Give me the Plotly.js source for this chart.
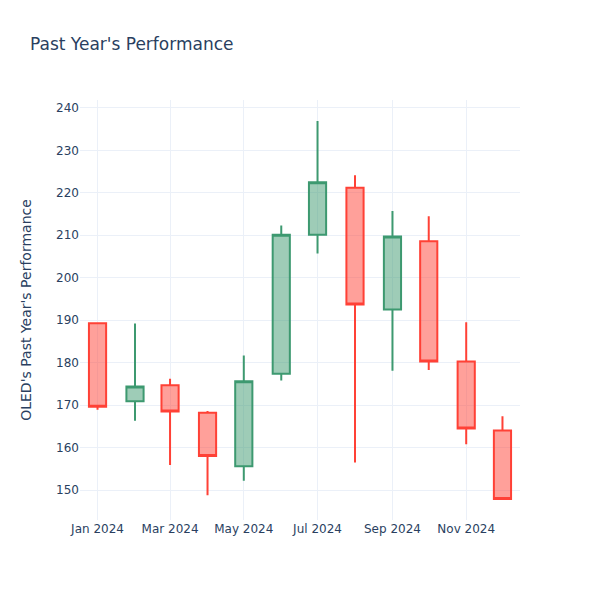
<!DOCTYPE html>
<html>
<head>
<meta charset="utf-8">
<script src="https://cdn.plot.ly/plotly-3.0.1.min.js"></script>
<style>html,body{margin:0;padding:0;background:#fff}#chart{width:600px;height:600px}</style>
</head>
<body>
<div id="chart"></div>
<script>
const dates = ['2024-01-01','2024-02-01','2024-03-01','2024-04-01','2024-05-01','2024-06-01','2024-07-01','2024-08-01','2024-09-01','2024-10-01','2024-11-01','2024-12-01'];
const openVals  = [189.3, 170.9, 174.7, 168.2, 155.6, 177.4, 210.1, 221.2, 192.5, 208.6, 180.3, 164.0];
const highVals  = [189.5, 189.2, 176.2, 168.6, 181.7, 212.3, 236.9, 224.1, 215.7, 214.5, 189.5, 167.4];
const lowVals   = [168.9, 166.3, 155.9, 148.8, 152.2, 175.8, 205.7, 156.5, 178.1, 178.3, 160.8, 147.9];
const closeVals = [169.6, 174.4, 168.5, 158.0, 175.6, 210.1, 222.5, 193.7, 209.7, 180.3, 164.5, 147.9];

const trace = {
  type: 'candlestick',
  x: dates, open: openVals, high: highVals, low: lowVals, close: closeVals,
  increasing: {line: {color: '#3D9970'}},
  decreasing: {line: {color: '#FF4136'}},
  showlegend: false
};
const grid = '#EBF0F8';
const layout = {
  width: 600, height: 600,
  paper_bgcolor: '#fff', plot_bgcolor: '#fff',
  font: {family: '"DejaVu Sans", verdana, arial, sans-serif', color: '#2a3f5f', size: 12},
  title: {text: "Past Year's Performance", x: 0.05, font: {size: 17}},
  margin: {l: 80, r: 80, t: 100, b: 80},
  xaxis: {rangeslider: {visible: false}, showline: false, gridcolor: grid, zeroline: false, dtick: 'M2', tickformat: '%b %Y', automargin: true, title: {standoff: 15}},
  yaxis: {title: {text: "OLED's Past Year's Performance", standoff: 21}, automargin: true, showline: false, gridcolor: grid, zerolinecolor: grid}
};
Plotly.newPlot('chart', [trace], layout, {displayModeBar: false});
</script>
</body>
</html>
